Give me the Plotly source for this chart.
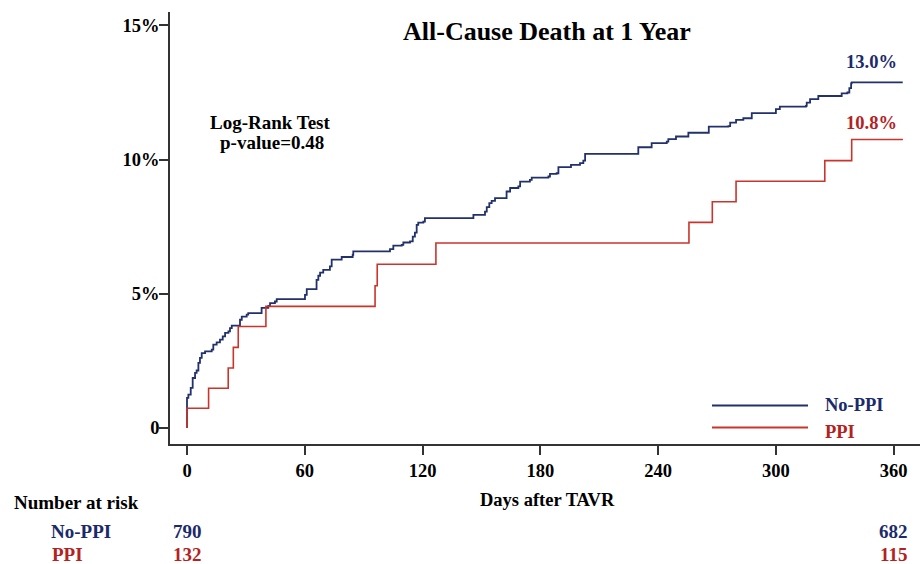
import plotly.graph_objects as go

# ---- data ----
days_noppi = [0, 0, 0.7, 1.9, 2.9, 4.1, 4.9, 5.8, 6.6, 7.5,
              9.2, 12.6, 13.4, 15.1, 16.8, 18.2, 19.4, 21.1, 21.9, 22.8,
              27, 27.9, 30.4, 31.2, 38, 41.4, 42.3, 44.8, 45.7, 60.1,
              61, 66, 66.9, 67.8, 69.4, 72.8, 73.7, 78.8, 84.4, 84.7,
              103.4, 105.1, 109.4, 110.2, 113.6, 115, 116.1, 117, 117.8, 120.4,
              121.2, 145.9, 151.8, 152.7, 154, 155.2, 156.9, 162.8, 164.6, 168.8,
              169.7, 174.7, 175.6, 184.1, 184.9, 188.3, 189.2, 195.6, 200.2, 201.9,
              202.8, 229.9, 236.7, 244.4, 245.2, 249.1, 255.4, 265.8, 275.8, 276.7,
              279.7, 283.4, 287.7, 300, 302, 315.3, 315.7, 317.4, 321.6, 333.5,
              336.4, 337.4, 338.3, 338.6, 364.6]
pct_noppi = [0, 1.12, 1.24, 1.49, 1.86, 2.05, 2.14, 2.42, 2.61, 2.79,
             2.85, 2.92, 3.10, 3.19, 3.29, 3.41, 3.54, 3.60, 3.72, 3.81,
             4.03, 4.15, 4.22, 4.28, 4.47, 4.55, 4.65, 4.71, 4.80, 4.96,
             5.17, 5.52, 5.67, 5.79, 5.89, 6.02, 6.27, 6.37, 6.45, 6.58,
             6.66, 6.79, 6.82, 6.91, 6.95, 7.13, 7.28, 7.57, 7.65, 7.69,
             7.82, 7.94, 8.06, 8.23, 8.38, 8.46, 8.56, 8.81, 8.94, 9.00,
             9.18, 9.24, 9.33, 9.37, 9.47, 9.49, 9.72, 9.80, 9.87, 9.96,
             10.21, 10.46, 10.61, 10.67, 10.76, 10.86, 11.00, 11.23, 11.25, 11.38,
             11.48, 11.54, 11.73, 11.88, 11.97, 12.00, 12.12, 12.25, 12.37, 12.47,
             12.50, 12.66, 12.84, 12.88, 12.88]

days_ppi = [0, 0, 11, 21, 23.6, 26.1, 40.2, 95.8, 96.9, 126.8,
            255.7, 267.6, 279.7, 324.9, 338.6, 364.7]
pct_ppi = [0, 0.73, 1.48, 2.23, 3.0, 3.78, 4.53, 5.3, 6.1, 6.89,
           7.66, 8.43, 9.19, 9.96, 10.75, 10.75]

x_ticks = [0, 60, 120, 180, 240, 300, 360]
y_ticks = [0, 5, 10, 15]
y_ticklabels = ["0", "5%", "10%", "15%"]

groups = ["No-PPI", "PPI"]
risk_days = [0, 360]
risk_noppi = [790, 682]
risk_ppi = [132, 115]
final_labels = ["13.0%", "10.8%"]

title = "All-Cause Death at 1 Year"
x_title = "Days after TAVR"
test_lines = ["Log-Rank Test", "p-value=0.48"]

# ---- style ----
NAVY = "#22306b"
RED = "#c9352c"
NAVY_TXT = "#1b2a6b"
RED_TXT = "#b3221e"
FONT = "Liberation Serif"
AX = "#333333"

fig = go.Figure()
fig.add_trace(go.Scatter(x=days_noppi, y=pct_noppi, mode="lines",
                         line=dict(color=NAVY, width=1.8, shape="hv"),
                         showlegend=False, hoverinfo="skip"))
fig.add_trace(go.Scatter(x=days_ppi, y=pct_ppi, mode="lines",
                         line=dict(color=RED, width=1.6, shape="hv"),
                         showlegend=False, hoverinfo="skip"))

W, H = 923, 564
L, R, T, B = 170, 3, 12, 120
pw, ph = W - L - R, H - T - B


def px(xp):
    return (xp - L) / pw


def py(yp):
    return (H - B - yp) / ph


ann = []


def text(s, x, y, size=18, color="black", xanchor="center", xref="paper"):
    ann.append(dict(text=s, x=x, y=y, xref=xref, yref="paper", showarrow=False,
                    xanchor=xanchor, yanchor="middle",
                    font=dict(family=FONT, size=size, color=color, weight="bold")))


text(title, px(546.5), py(32), size=26)
text(test_lines[0], px(270), py(122), size=19)
text(test_lines[1], px(271.5), py(142), size=19)
text(final_labels[0], px(871), py(62), size=18.5, color=NAVY_TXT)
text(final_labels[1], px(871), py(123), size=18.5, color=RED_TXT)
text(groups[0], px(823), py(405), size=18.5, color=NAVY_TXT, xanchor="left")
text(groups[1], px(823), py(432), size=18.5, color=RED_TXT, xanchor="left")
text(x_title, px(547), py(500), size=18.5)
text("Number at risk", px(12), py(503), size=19, xanchor="left")
text(groups[0], px(49), py(531), size=19, color=NAVY_TXT, xanchor="left")
text(groups[1], px(50), py(554), size=19, color=RED_TXT, xanchor="left")
for d, n in zip(risk_days, risk_noppi):
    text(str(n), d, py(531), size=19, color=NAVY_TXT, xref="x")
for d, n in zip(risk_days, risk_ppi):
    text(str(n), d, py(554), size=19, color=RED_TXT, xref="x")

shapes = [
    dict(type="line", xref="paper", yref="paper", x0=px(712), x1=px(808),
         y0=py(405.5), y1=py(405.5), line=dict(color=NAVY, width=2)),
    dict(type="line", xref="paper", yref="paper", x0=px(712), x1=px(808),
         y0=py(427.5), y1=py(427.5), line=dict(color=RED, width=2)),
]

fig.update_layout(
    width=W, height=H,
    margin=dict(l=L, r=R, t=T, b=B, pad=0),
    paper_bgcolor="white", plot_bgcolor="white",
    font=dict(family=FONT, color="black"),
    annotations=ann, shapes=shapes,
    showlegend=False,
    xaxis=dict(range=[-8.66, 373.4], tickvals=x_ticks, ticks="outside",
               ticklen=9, tickwidth=1.5, tickcolor=AX,
               showline=True, linecolor=AX, linewidth=1.5,
               showgrid=False, zeroline=False,
               tickfont=dict(family=FONT, size=18.5, color="black", weight="bold")),
    yaxis=dict(range=[-0.6, 15.5], tickvals=y_ticks, ticktext=y_ticklabels,
               ticks="outside", ticklen=9, tickwidth=1.5, tickcolor=AX,
               ticklabelstandoff=-4,
               showline=True, linecolor=AX, linewidth=1.5,
               showgrid=False, zeroline=False,
               tickfont=dict(family=FONT, size=18.5, color="black", weight="bold")),
)

fig.write_html("out.html")
